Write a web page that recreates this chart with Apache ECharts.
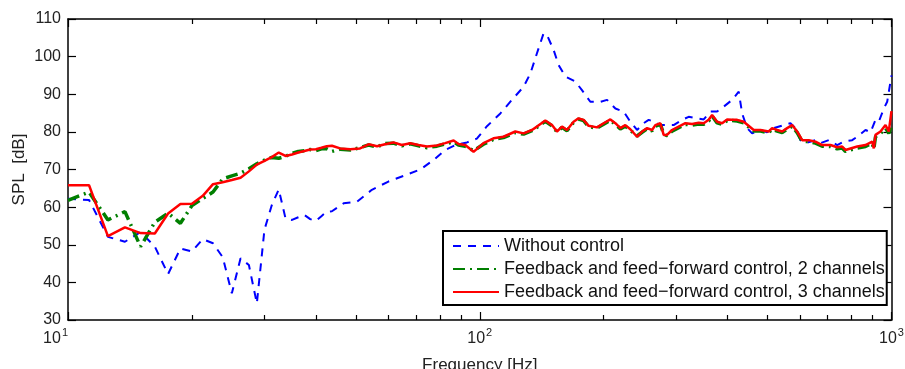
<!DOCTYPE html>
<html>
<head>
<meta charset="utf-8">
<script src="https://cdn.jsdelivr.net/npm/echarts@6/dist/echarts.min.js"></script>
<style>
  html, body { margin: 0; padding: 0; background: #fff; }
  #chart { width: 905px; height: 369px; }
</style>
</head>
<body>
<div id="chart"></div>
<script>
// low frequency part, 1.25 Hz resolution
var lowFreq = [10, 11.25, 12.5, 13.75, 15, 16.25, 17.5, 18.75, 20, 21.25,
  22.5, 23.75, 25, 26.25, 27.5, 28.75, 30, 31.25, 32.5, 33.75,
  35, 36.25, 37.5, 38.75, 40, 41.25, 42.5, 43.75];
var blueLow = [62.2, 61.9, 52.1, 50.8, 53.4, 49.5, 42.2, 49.0, 48.2, 51.5,
  50.4, 46.7, 37.1, 46.4, 44.6, 34.4, 54.0, 60.5, 64.7, 57.0,
  56.6, 57.3, 57.9, 56.8, 56.3, 57.6, 58.8, 58.9];
var greenLow = [61.8, 64.0, 56.6, 58.8, 49.5, 56.0, 58.4, 55.7, 60.4, 62.3,
  64.0, 67.5, 68.3, 69.0, 70.2, 71.5, 72.5, 73.2, 73.0, 73.5,
  74.3, 74.8, 75.0, 75.3, 75.0, 75.5, 75.5, 74.8];
var redLow = [65.8, 65.8, 52.3, 54.6, 53.1, 53.0, 58.3, 60.8, 60.9, 63.0,
  66.1, 66.6, 67.2, 67.8, 69.5, 71.3, 72.3, 73.3, 74.5, 73.6,
  74.0, 74.5, 74.9, 75.3, 75.4, 75.8, 76.2, 76.3];

// upper part, controlled cases
var ctrlFreq = [45.8, 48.5, 51.2, 53.7, 56.3, 58.9, 61.7, 64.7, 67.8, 71.0,
  74.4, 78.7, 82.4, 86.4, 88.8, 92.2, 96.6, 102.1, 108.0, 114.2,
  122.0, 127.8, 133.9, 137.7, 144.3, 149.8, 154.0, 158.4, 162.9, 169.0,
  173.8, 178.7, 183.8, 192.7, 199.9, 207.6, 213.5, 219.5, 225.7, 232.1,
  241.0, 247.9, 254.9, 262.1, 267.0, 274.6, 279.7, 285.0, 293.1, 304.2,
  315.8, 327.8, 340.2, 349.9, 359.8, 366.7, 377.1, 387.8, 398.8, 410.1,
  421.8, 437.6, 462.8, 480.5, 503.3, 513.0, 527.5, 542.5, 557.9, 573.7,
  590.0, 606.7, 629.5, 653.6, 678.6, 710.9, 738.1, 759.0, 773.1, 795.0,
  825.5, 864.7, 897.7, 905.8, 914.4, 940.3, 967.0, 985.0, 1000];
var redHigh = [75.6, 75.4, 75.6, 76.7, 76.2, 76.7, 77.2, 76.5, 77.0, 76.5,
  76.1, 76.4, 77.0, 77.7, 76.8, 76.5, 74.7, 77.0, 78.3, 78.7,
  80.1, 79.6, 80.5, 81.4, 83.0, 81.8, 80.1, 81.4, 80.5, 82.7,
  83.6, 83.2, 81.6, 81.2, 82.3, 83.3, 82.3, 81.0, 81.8, 80.7,
  78.7, 80.1, 81.0, 80.5, 81.8, 82.3, 79.2, 79.2, 80.5, 81.4,
  82.3, 82.1, 82.4, 82.3, 83.2, 84.5, 82.7, 82.3, 83.3, 83.2,
  83.2, 82.7, 80.5, 80.5, 80.1, 81.0, 80.5, 80.1, 81.0, 81.8,
  80.1, 77.8, 77.8, 77.4, 76.5, 76.5, 75.9, 76.1, 75.2, 75.6,
  76.1, 76.5, 77.4, 75.6, 79.2, 80.1, 81.8, 80.1, 85.5];
var greenHigh = [75.4, 75.2, 75.8, 76.5, 76.0, 76.9, 77.0, 76.3, 76.8, 76.3,
  75.8, 76.2, 76.8, 77.4, 76.5, 76.2, 75.0, 76.7, 78.0, 78.5,
  79.8, 79.4, 80.3, 81.2, 82.8, 81.6, 80.0, 81.2, 80.3, 82.5,
  83.4, 83.0, 81.4, 81.0, 82.0, 83.1, 82.0, 80.8, 81.5, 80.4,
  78.9, 79.9, 80.8, 80.3, 81.5, 82.0, 79.5, 79.0, 80.2, 81.1,
  82.0, 81.8, 82.1, 82.0, 82.9, 84.2, 82.4, 82.0, 83.0, 83.0,
  82.9, 82.4, 80.2, 80.2, 79.8, 80.7, 80.2, 79.8, 80.7, 81.5,
  79.8, 77.5, 77.4, 77.0, 76.2, 76.1, 75.5, 75.7, 74.8, 75.2,
  75.7, 76.1, 77.0, 75.4, 78.7, 79.6, 81.0, 79.6, 81.5];

// upper part, without control
var blueFreq = [46.7, 50.3, 54.7, 60.0, 65.3, 71.7, 77.2, 82.4, 87.2, 93.1,
  98.4, 104.1, 112.2, 119.7, 127.8, 132.7, 137.7, 142.9, 145.7, 151.1,
  155.4, 161.4, 170.6, 177.1, 185.6, 196.3, 203.8, 213.5, 223.6, 232.1,
  241.0, 250.1, 257.2, 264.5, 274.6, 287.6, 295.7, 310.0, 321.6, 337.2,
  349.9, 363.2, 377.1, 391.3, 410.1, 425.6, 433.7, 446.0, 458.7, 480.5,
  498.8, 517.6, 547.3, 568.3, 584.5, 601.0, 618.1, 653.6, 672.2, 704.2,
  738.1, 765.8, 802.6, 825.5, 864.7, 889.2, 914.4, 931.4, 957.8, 976.2,
  1000];
var blueHigh = [61.0, 61.4, 64.6, 66.8, 68.3, 70.0, 72.5, 75.2, 76.5, 77.2,
  78.2, 81.5, 84.9, 88.5, 92.0, 95.5, 100.9, 106.2, 105.7, 101.8,
  97.8, 94.7, 93.4, 91.1, 88.0, 88.0, 88.5, 86.2, 85.4, 82.7,
  80.5, 82.3, 83.2, 82.7, 81.8, 81.8, 81.8, 83.2, 84.0, 83.6,
  83.3, 85.4, 85.4, 86.7, 88.5, 90.7, 84.9, 81.0, 79.6, 80.5,
  79.9, 81.0, 81.8, 82.3, 81.0, 77.8, 77.0, 77.8, 77.0, 77.8,
  76.5, 77.4, 77.8, 78.7, 80.5, 79.9, 83.2, 82.7, 86.2, 88.0,
  95.0];

var majorTicks = [10, 100, 1000];
var minorTicks = [20, 30, 40, 50, 60, 70, 80, 90, 200, 300, 400, 500, 600, 700, 800, 900];
var legendNames = ['Without control',
  'Feedback and feed\u2212forward control, 2 channels',
  'Feedback and feed\u2212forward control, 3 channels'];

function pairs(f1, v1, f2, v2) {
  var out = [];
  for (var i = 0; i < f1.length; i++) out.push([f1[i], v1[i]]);
  for (var j = 0; j < f2.length; j++) out.push([f2[j], v2[j]]);
  return out;
}

var FONT = 'Liberation Sans, Arial, Helvetica, sans-serif';
var axisColor = '#000';

function logAxis(pos, ticks, len, showLine, withLabels) {
  var ax = {
    type: 'log', logBase: 10, min: 10, max: 1000, position: pos,
    axisLine: { show: showLine, onZero: false, lineStyle: { color: axisColor, width: 1.5 } },
    axisTick: { show: true, inside: true, length: len, customValues: ticks,
      lineStyle: { color: axisColor, width: 1.2 } },
    axisLabel: { show: false },
    splitLine: { show: false },
    minorTick: { show: false },
    minorSplitLine: { show: false }
  };
  if (withLabels) {
    ax.axisLabel = {
      show: true, customValues: majorTicks, margin: 7,
      alignMinLabel: 'right',
      formatter: function (v) {
        return '{b|10}{s|' + Math.round(Math.log10(v)) + '}';
      },
      rich: {
        b: { fontSize: 16, color: '#222', fontFamily: FONT },
        s: { fontSize: 11, color: '#222', fontFamily: FONT, padding: [0, 0, 13, 1] }
      }
    };
    ax.name = 'Frequency [Hz]';
    ax.nameLocation = 'middle';
    ax.nameGap = 37;
    ax.nameTextStyle = { fontSize: 17, color: '#222', fontFamily: FONT };
  }
  return ax;
}

var chart = echarts.init(document.getElementById('chart'));
var option = {
  animation: false,
  backgroundColor: '#fff',
  grid: { left: 68, right: 13.5, top: 19, bottom: 49, containLabel: false, outerBoundsMode: 'none' },
  xAxis: [
    logAxis('bottom', majorTicks, 8, true, true),
    logAxis('bottom', minorTicks, 5, false, false),
    logAxis('top', majorTicks, 8, true, false),
    logAxis('top', minorTicks, 5, false, false)
  ],
  yAxis: [
    {
      type: 'value', min: 30, max: 110, interval: 10, position: 'left',
      axisLine: { show: true, onZero: false, lineStyle: { color: axisColor, width: 1.5 } },
      axisTick: { show: true, inside: true, length: 8, lineStyle: { color: axisColor, width: 1.2 } },
      axisLabel: { fontSize: 16, color: '#222', fontFamily: FONT, margin: 7 },
      splitLine: { show: false },
      name: 'SPL  [dB]', nameLocation: 'middle', nameGap: 40, nameMoveOverlap: false,
      nameTextStyle: { fontSize: 17, color: '#222', fontFamily: FONT }
    },
    {
      type: 'value', min: 30, max: 110, interval: 10, position: 'right',
      axisLine: { show: true, onZero: false, lineStyle: { color: axisColor, width: 1.5 } },
      axisTick: { show: true, inside: true, length: 8, lineStyle: { color: axisColor, width: 1.2 } },
      axisLabel: { show: false },
      splitLine: { show: false }
    }
  ],
  legend: {
    data: legendNames,
    orient: 'vertical',
    left: 443, top: 231,
    itemWidth: 46, itemHeight: 14, itemGap: 5,
    padding: [6, 2, 4, 9],
    borderColor: '#000', borderWidth: 2, borderRadius: 0,
    backgroundColor: '#fff',
    selectedMode: false,
    itemStyle: { opacity: 0 },
    textStyle: { fontSize: 18, color: '#111', fontFamily: FONT }
  },
  series: [
    {
      name: legendNames[0], type: 'line', xAxisIndex: 0, yAxisIndex: 0,
      data: pairs(lowFreq, blueLow, blueFreq, blueHigh),
      symbol: 'none', z: 2,
      lineStyle: { color: '#0000ff', width: 2, type: [8, 7] },
      itemStyle: { color: '#0000ff' }
    },
    {
      name: legendNames[1], type: 'line', xAxisIndex: 0, yAxisIndex: 0,
      data: pairs(lowFreq, greenLow, ctrlFreq, greenHigh),
      symbol: 'none', z: 3,
      lineStyle: { color: '#007f00', width: 3.5, type: [12, 5, 2, 5] },
      itemStyle: { color: '#007f00' }
    },
    {
      name: legendNames[2], type: 'line', xAxisIndex: 0, yAxisIndex: 0,
      data: pairs(lowFreq, redLow, ctrlFreq, redHigh),
      symbol: 'none', z: 4,
      lineStyle: { color: '#ff0000', width: 2.5 },
      itemStyle: { color: '#ff0000' }
    }
  ]
};
chart.setOption(option);
</script>
</body>
</html>
